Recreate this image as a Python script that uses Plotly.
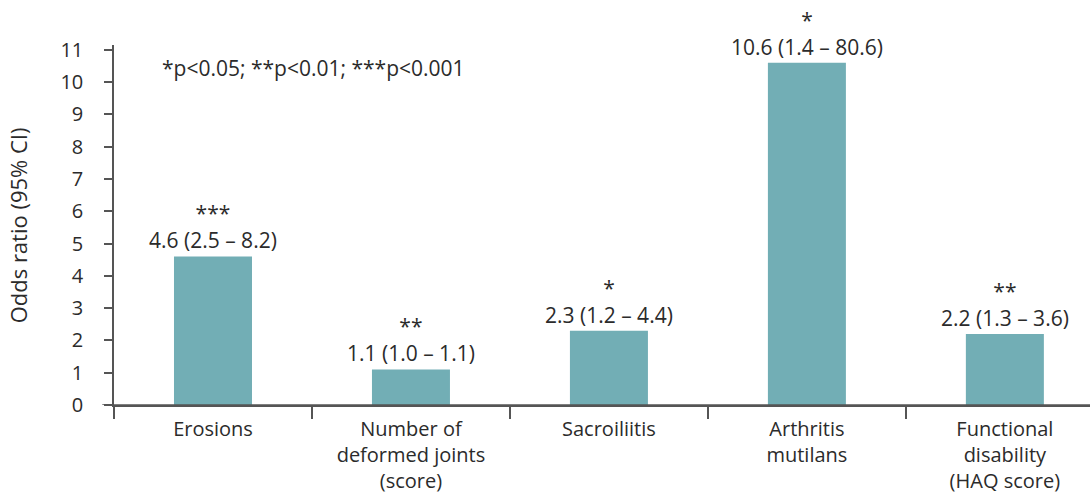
import plotly.graph_objects as go

# Outcomes and odds ratios with 95% confidence intervals
categories = [
    "Erosions",
    "Number of<br>deformed joints<br>(score)",
    "Sacroiliitis",
    "Arthritis<br>mutilans",
    "Functional<br>disability<br>(HAQ score)",
]
odds_ratio = [4.6, 1.1, 2.3, 10.6, 2.2]
ci_low = [2.5, 1.0, 1.2, 1.4, 1.3]
ci_high = [8.2, 1.1, 4.4, 80.6, 3.6]
significance = ["***", "**", "*", "*", "**"]
y_ticks = list(range(0, 12))

FONT = "'Open Sans', Lato, sans-serif"
TEXT = "#2b2b2b"
AXIS = "#555555"
BAR = "#72aeb5"
SIZE = 21

fig = go.Figure()
fig.add_trace(go.Bar(
    x=categories,
    y=odds_ratio,
    width=0.394,
    marker=dict(color=BAR, line=dict(width=0)),
    hoverinfo="skip",
))

# Value + CI label with significance stars above each bar
for cat, v, lo, hi, sig in zip(categories, odds_ratio, ci_low, ci_high, significance):
    fig.add_annotation(
        x=cat, y=v, xref="x", yref="y",
        text=f"{sig}<br>{v:.1f} ({lo:.1f} – {hi:.1f})",
        showarrow=False, yanchor="bottom", yshift=0,
        font=dict(family=FONT, size=SIZE, color=TEXT),
        align="center",
    )

fig.add_annotation(
    x=0.047, y=10.44, xref="paper", yref="y",
    text="*p<0.05; **p<0.01; ***p<0.001",
    showarrow=False, xanchor="left", yanchor="middle",
    font=dict(family=FONT, size=SIZE, color=TEXT),
)

# Y-axis title placed near the left edge
fig.add_annotation(
    x=-0.098, y=0.5, xref="paper", yref="paper",
    text="Odds ratio (95% CI)", textangle=-90,
    showarrow=False, xanchor="center", yanchor="middle",
    font=dict(family=FONT, size=22, color=TEXT),
)

# Baseline extends a little left of the y axis
fig.add_shape(type="line", xref="paper", yref="y",
              x0=-0.012, x1=1, y0=0, y1=0,
              line=dict(color=AXIS, width=1.5), layer="above")

fig.update_layout(
    width=1090, height=493,
    margin=dict(l=114, r=0, t=45, b=88),
    paper_bgcolor="white", plot_bgcolor="white",
    showlegend=False,
    font=dict(family=FONT, size=SIZE, color=TEXT),
    bargap=0.6,
)
fig.update_xaxes(
    type="category",
    range=[-0.5, 4.43],
    automargin=False,
    showline=True, linecolor=AXIS, linewidth=1.5,
    ticks="outside", tickson="boundaries", ticklen=12,
    tickcolor=AXIS, tickwidth=1.5,
    showgrid=False, zeroline=False,
    tickfont=dict(family=FONT, size=20, color=TEXT),
    ticklabelstandoff=5,
)
fig.update_yaxes(
    range=[0, 11.15],
    tickvals=y_ticks,
    automargin=False,
    showline=True, linecolor=AXIS, linewidth=1.5,
    ticks="outside", ticklen=8, tickcolor=AXIS, tickwidth=1.5,
    showgrid=False, zeroline=False,
    tickfont=dict(family=FONT, size=20, color=TEXT),
    ticklabelstandoff=17,
)

fig.write_html("out.html")
